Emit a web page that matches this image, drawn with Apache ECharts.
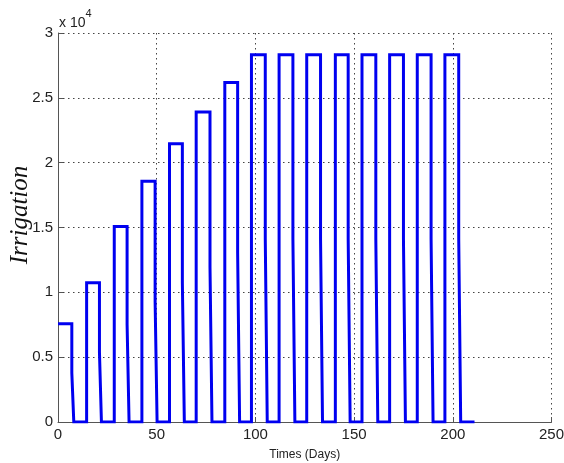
<!DOCTYPE html>
<html>
<head>
<meta charset="utf-8">
<script src="https://cdn.jsdelivr.net/npm/echarts@6/dist/echarts.min.js"></script>
<style>
html,body{margin:0;padding:0;background:#fff;}
#chart{width:564px;height:463px;}
</style>
</head>
<body>
<div id="chart"></div>
<script>
// Pulse data (irrigation volume)
const riseDays     = [0, 14.5, 28.5, 42.5, 56.5, 70, 84.5, 98, 112, 126, 140.5, 154, 168, 182, 196];
const halfDropDays = [7, 21, 35, 49.2, 63, 77, 91, 105, 119, 133, 147, 161, 175, 189, 203];
const zeroDays     = [8, 22, 36, 50.2, 64, 78, 92, 106, 120, 134, 148, 162, 176, 190, 204];
const peaks        = [7580, 10740, 15080, 18560, 21460, 23900, 26180, 28320, 28320, 28320, 28320, 28320, 28320, 28320, 28320];
const endDay = 211;
const yTickLabels = ['0', '0.5', '1', '1.5', '2', '2.5', '3'];

const pts = [];
for (let i = 0; i < peaks.length; i++) {
  if (i > 0) pts.push([riseDays[i], 0]);
  pts.push([riseDays[i], peaks[i]]);
  pts.push([halfDropDays[i], peaks[i]]);
  pts.push([halfDropDays[i], peaks[i] / 2]);
  pts.push([zeroDays[i], peaks[i] / 2]);
  pts.push([zeroDays[i], 0]);
}
pts.push([endDay, 0]);

const chart = echarts.init(document.getElementById('chart'), null, {renderer: 'canvas'});
const gridLine = {show: true, lineStyle: {color: '#444', width: 1, type: [1.5, 3.5]}};
chart.setOption({
  animation: false,
  backgroundColor: '#fff',
  grid: {left: 58, right: 12.5, top: 33, bottom: 41, containLabel: false, outerBoundsMode: 'none'},
  xAxis: {
    type: 'value', min: 0, max: 250, interval: 50,
    name: 'Times (Days)', nameLocation: 'middle', nameGap: 27,
    nameTextStyle: {fontFamily: 'Liberation Sans', fontSize: 12, color: '#222'},
    axisLine: {show: true, lineStyle: {color: '#555', width: 1}},
    axisTick: {show: true, inside: true, length: 5, lineStyle: {color: '#555'}},
    axisLabel: {fontFamily: 'Liberation Sans', fontSize: 15, color: '#222', margin: 5},
    splitLine: gridLine
  },
  yAxis: {
    type: 'value', min: 0, max: 30000, interval: 5000,
    axisLine: {show: true, lineStyle: {color: '#555', width: 1}},
    axisTick: {show: true, inside: true, length: 5, lineStyle: {color: '#555'}},
    axisLabel: {fontFamily: 'Liberation Sans', fontSize: 15, color: '#222', margin: 5,
      formatter: function (v) { return yTickLabels[Math.round(v / 5000)]; }},
    splitLine: gridLine
  },
  graphic: [{
    type: 'text', left: 59, top: 8,
    style: {
      text: '{a|x 10}{b|4}',
      rich: {
        a: {fontFamily: 'Liberation Sans', fontSize: 14, fill: '#222', padding: [8, 0, 0, 0]},
        b: {fontFamily: 'Liberation Sans', fontSize: 11, fill: '#222', verticalAlign: 'top'}
      }
    }
  }, {
    type: 'text', x: 20, y: 215, rotation: Math.PI / 2,
    style: {
      text: 'Irrigation', align: 'center', verticalAlign: 'middle',
      fontFamily: 'Liberation Serif', fontStyle: 'italic', fontSize: 25, fill: '#111'
    }
  }],
  series: [{
    type: 'line', data: pts, showSymbol: false, symbol: 'none',
    lineStyle: {color: '#0000f0', width: 3, join: 'miter'},
    clip: true
  }]
});
</script>
</body>
</html>
